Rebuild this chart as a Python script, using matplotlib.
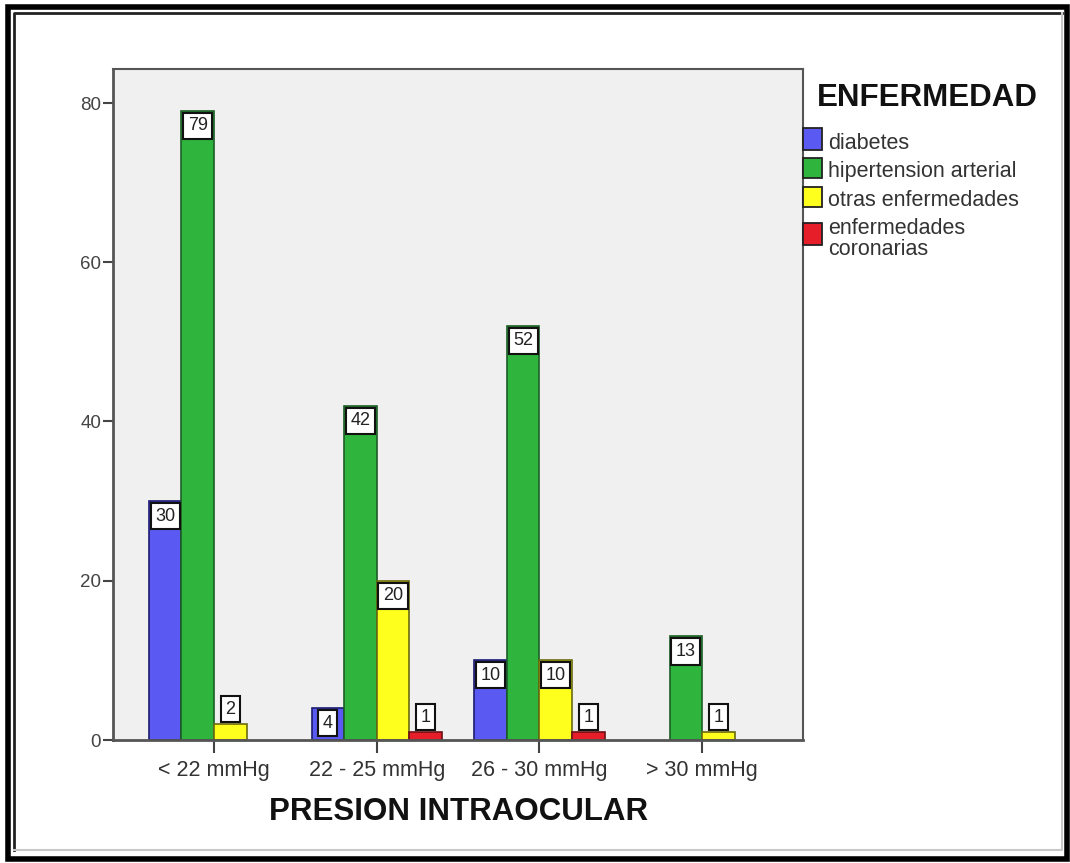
import numpy as np
import matplotlib
matplotlib.use("Agg")
import matplotlib.pyplot as plt
from matplotlib.patches import Rectangle
from matplotlib.lines import Line2D

plt.rcParams['font.family'] = ['Liberation Sans', 'DejaVu Sans']

# ---- data -------------------------------------------------------------
categories = ['< 22 mmHg', '22 - 25 mmHg', '26 - 30 mmHg', '> 30 mmHg']
series_names = ['diabetes', 'hipertension arterial', 'otras enfermedades',
                'enfermedades\ncoronarias']
diabetes = [30, 4, 10, 0]
hipertension = [79, 42, 52, 13]
otras = [2, 20, 10, 1]
coronarias = [0, 1, 1, 0]
yticks = [0, 20, 40, 60, 80]

series = [diabetes, hipertension, otras, coronarias]
colors = ['#5a5af2', '#2fb43e', '#ffff1e', '#e61e2a']
edges = ['#1c1c70', '#1d5e26', '#6b6b10', '#6e1015']

# ---- figure -----------------------------------------------------------
W, H = 1070, 863
fig = plt.figure(figsize=(W / 100, H / 100), dpi=100)
fig.patch.set_facecolor('white')


def fx(x):
    return x / W


def fy(y):
    return 1 - y / H


ax = fig.add_axes([fx(113), fy(740), (803 - 113) / W, (740 - 69) / H])
ax.set_facecolor('#f0f0f0')

x = np.arange(len(categories))
w = 0.2
px_per_unit = (740 - 103) / 80.0

for i, (vals, col, ec) in enumerate(zip(series, colors, edges)):
    offs = (i - 1.5) * w
    vals = np.asarray(vals)
    idx = np.nonzero(vals)[0]
    ax.bar(x[idx] + offs, vals[idx], w, color=col, edgecolor=ec,
           linewidth=1.2, zorder=2)
    for j in idx:
        v = vals[j]
        inside = v * px_per_unit >= 30
        ax.annotate(str(v), xy=(x[j] + offs, v),
                    xytext=(0, -15 if inside else 15),
                    textcoords='offset pixels', ha='center', va='center',
                    fontsize=13, color='#222222', zorder=4,
                    bbox=dict(boxstyle='square,pad=0.25', fc='white',
                              ec='#111111', lw=1.5))

ax.set_xlim(-0.621, 3.62)
ax.set_ylim(0, (740 - 69) / px_per_unit)
ax.set_xticks(x)
ax.set_xticklabels(categories, fontsize=15.5, color='#333333')
ax.set_yticks(yticks)
ax.set_yticklabels([str(t) for t in yticks], fontsize=13.5, color='#444444')
ax.tick_params(axis='x', length=9.5, width=1.5, color='#444444', pad=5)
ax.tick_params(axis='y', length=7, width=1.5, color='#444444', pad=1.5)
for s in ax.spines.values():
    s.set_color('#555555')
    s.set_linewidth(1.5)
ax.spines['left'].set_linewidth(2)
ax.spines['bottom'].set_linewidth(2)

# axis title
fig.text(fx(459), fy(812), 'PRESION INTRAOCULAR', ha='center', va='center',
         fontsize=22.5, fontweight='bold', color='#111111')

# legend
fig.text(fx(817), fy(98), 'ENFERMEDAD', ha='left', va='center',
         fontsize=22.5, fontweight='bold', color='#111111')
patch_rows = [(128, 150), (158, 178), (187, 207), (223, 245)]
text_rows = [143, 172, 200, 239]
for name, col, (y0, y1), ty in zip(series_names, colors, patch_rows, text_rows):
    fig.patches.append(Rectangle((fx(803), fy(y1)), (822 - 803) / W,
                                 (y1 - y0) / H, transform=fig.transFigure,
                                 fc=col, ec='#222222', lw=1.3))
    fig.text(fx(828), fy(ty), name, ha='left', va='center', fontsize=15.5,
             color='#333333', linespacing=1.0)

# double frame around the chart
fig.patches.append(Rectangle((fx(8), fy(859)), (1067 - 8) / W, (859 - 7) / H,
                             transform=fig.transFigure, fill=False,
                             ec='black', lw=4))
fig.lines.append(Line2D([fx(13.5), fx(13.5), fx(1062)],
                        [fy(850), fy(13), fy(13)], transform=fig.transFigure,
                        color='#222222', lw=2))
fig.lines.append(Line2D([fx(13.5), fx(1062), fx(1062)],
                        [fy(850), fy(850), fy(13)], transform=fig.transFigure,
                        color='#c8c8c8', lw=1.5))

fig.savefig('out.png', dpi=100)
